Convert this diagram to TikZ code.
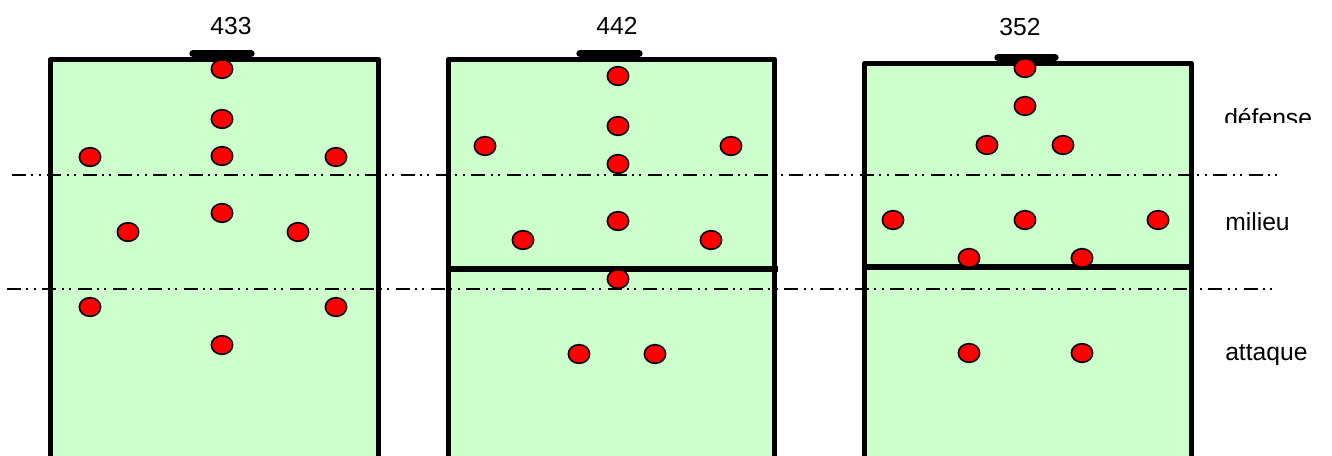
\documentclass[tikz,border=0pt]{standalone}
\usepackage{fontspec}
\setmainfont{Liberation Sans}
\usetikzlibrary{shapes.geometric}
\definecolor{pitch}{HTML}{CCFFCC}
\definecolor{dotred}{HTML}{FF0000}
\begin{document}
\begin{tikzpicture}[x=0.75pt,y=-0.75pt,
  field/.style={fill=pitch,draw=black,line width=4.2pt,line join=round},
  goalbar/.style={line width=5.5pt,line cap=round},
  halfline/.style={line width=4pt},
  zone/.style={line width=1.3pt,dash pattern=on 10.5pt off 4pt on 1.5pt off 4pt on 1.5pt off 5pt},
  player/.style={ellipse,draw=black,fill=dotred,line width=1.2pt,minimum width=16pt,minimum height=14pt,inner sep=0pt},
  lbl/.style={font=\fontsize{18.5}{20}\selectfont,inner sep=0pt}]
\useasboundingbox (0,0) rectangle (1332,455);
\clip (0,0) rectangle (1332,455);
% fields
\path[field] (50.5,470) -- (50.5,59.5) -- (378.5,59.5) -- (378.5,470);
\path[field] (448.5,470) -- (448.5,59.5) -- (774.5,59.5) -- (774.5,470);
\path[field] (864.5,470) -- (864.5,63.5) -- (1191.5,63.5) -- (1191.5,470);
% goals
\draw[goalbar] (193,53.5) -- (251,53.5);
\draw[goalbar] (580,53.5) -- (639,53.5);
\draw[goalbar] (998,57.5) -- (1055,57.5);
% halfway lines
\coordinate (h2a) at (450,269); \coordinate (h2b) at (778,269);
\coordinate (h3a) at (866,267); \coordinate (h3b) at (1193,267);
\draw[halfline] (h2a) -- (h2b);
\draw[halfline] (h3a) -- (h3b);
% zone lines
\coordinate (z1a) at (12,175); \coordinate (z1b) at (1283,175);
\coordinate (z2a) at (7,289); \coordinate (z2b) at (1277,289);
\draw[zone] (z1a) -- (z1b);
\draw[zone] (z2a) -- (z2b);
% titles
\node[lbl,anchor=base] (t1) at (231,34) {433};
\node[lbl,anchor=base] (t2) at (617,34) {442};
\node[lbl,anchor=base] (t3) at (1020,35) {352};
% labels
\begin{scope}
\clip (1200,90) rectangle (1332,122);
\node[lbl,anchor=base west] (ldef) at (1224,126) {défense};
\end{scope}
\node[lbl,anchor=base west] (lmil) at (1225,230) {milieu};
\begin{scope}
\clip (1200,330) rectangle (1332,364);
\node[lbl,anchor=base west] (latt) at (1225,360) {attaque};
\end{scope}
% players 433
\node[player] (a1) at (222,69) {};
\node[player] (a2) at (222,119) {};
\node[player] (a3) at (90,157) {};
\node[player] (a4) at (222,156) {};
\node[player] (a5) at (336,157) {};
\node[player] (a6) at (222,213) {};
\node[player] (a7) at (128,232) {};
\node[player] (a8) at (298,232) {};
\node[player] (a9) at (90,307) {};
\node[player] (a10) at (336,307) {};
\node[player] (a11) at (222,345) {};
% players 442
\node[player] (b1) at (618,76) {};
\node[player] (b2) at (618,126) {};
\node[player] (b3) at (485,146) {};
\node[player] (b4) at (731,146) {};
\node[player] (b5) at (618,164) {};
\node[player] (b6) at (618,221) {};
\node[player] (b7) at (523,240) {};
\node[player] (b8) at (711,240) {};
\node[player] (b9) at (618,279) {};
\node[player] (b10) at (579,354) {};
\node[player] (b11) at (655,354) {};
% players 352
\node[player] (c1) at (1025,68) {};
\node[player] (c2) at (1025,106) {};
\node[player] (c3) at (987,145) {};
\node[player] (c4) at (1063,145) {};
\node[player] (c5) at (893,220) {};
\node[player] (c6) at (1025,220) {};
\node[player] (c7) at (1158,220) {};
\node[player] (c8) at (969,258) {};
\node[player] (c9) at (1082,258) {};
\node[player] (c10) at (969,353) {};
\node[player] (c11) at (1082,353) {};
\end{tikzpicture}
\end{document}
